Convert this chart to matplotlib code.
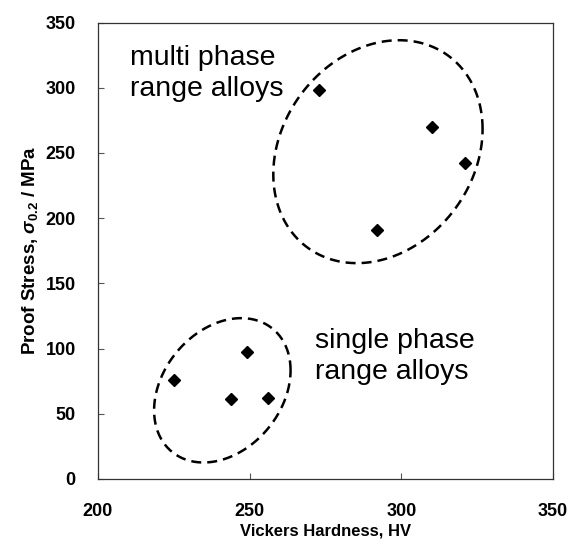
import numpy as np
import matplotlib
matplotlib.use('Agg')
import matplotlib.pyplot as plt

plt.rcParams['font.family'] = ['Liberation Sans', 'DejaVu Sans']
plt.rcParams['mathtext.fontset'] = 'custom'
plt.rcParams['mathtext.rm'] = 'Liberation Sans:bold'
plt.rcParams['mathtext.it'] = 'Liberation Sans:italic:bold'

# multi phase range alloys
multi_hv = [273, 310, 321, 292]
multi_stress = [298, 270, 242, 191]

# single phase range alloys
single_hv = [225, 249, 244, 256]
single_stress = [76, 97, 61, 62]

# group outlines: centre x, centre y, x half-width, y shift, y half-height
multi_ring = [292.3, 251, 34.5, 17.3, 83.7]
single_ring = [241, 68, 22.5, 15.3, 53.2]

x_ticks = [200, 250, 300, 350]
y_ticks = [0, 50, 100, 150, 200, 250, 300, 350]


def ring(ax, cx, cy, a, c, d):
    t = np.linspace(0, 2 * np.pi, 300)
    ax.plot(cx + a * np.cos(t), cy + c * np.cos(t) + d * np.sin(t),
            color='black', lw=1.8, dashes=(4, 2.4))


fig = plt.figure(figsize=(5.68, 5.44), dpi=100)
ax = fig.add_axes([0.1725, 0.1195, 0.801, 0.839])

ax.plot(multi_hv, multi_stress, 'D', color='black', ms=6.5)
ax.plot(single_hv, single_stress, 'D', color='black', ms=6.5)
ring(ax, *multi_ring)
ring(ax, *single_ring)

ax.text(210.4, 332.5, 'multi phase\nrange alloys', fontsize=20.5, va='top',
        ha='left', linespacing=1.25)
ax.text(271.4, 115.5, 'single phase\nrange alloys', fontsize=20.5, va='top',
        ha='left', linespacing=1.25)

ax.set_xlim(200, 350)
ax.set_ylim(0, 350)
ax.set_xticks(x_ticks)
ax.set_yticks(y_ticks)
ax.tick_params(direction='in', length=4, width=0.8, labelsize=13,
               color='#555555')
ax.tick_params(axis='x', pad=17)
ax.tick_params(axis='y', pad=16)
for lab in ax.get_xticklabels() + ax.get_yticklabels():
    lab.set_fontweight('bold')
for s in ax.spines.values():
    s.set_linewidth(0.9)
    s.set_color('#333333')

ax.set_xlabel('Vickers Hardness, HV', fontsize=12, fontweight='bold',
              labelpad=3)
ax.set_ylabel(r'Proof Stress, $\sigma_{0.2}$ / MPa', fontsize=13.5,
              fontweight='bold', labelpad=4)

fig.savefig('out.png', dpi=100)
